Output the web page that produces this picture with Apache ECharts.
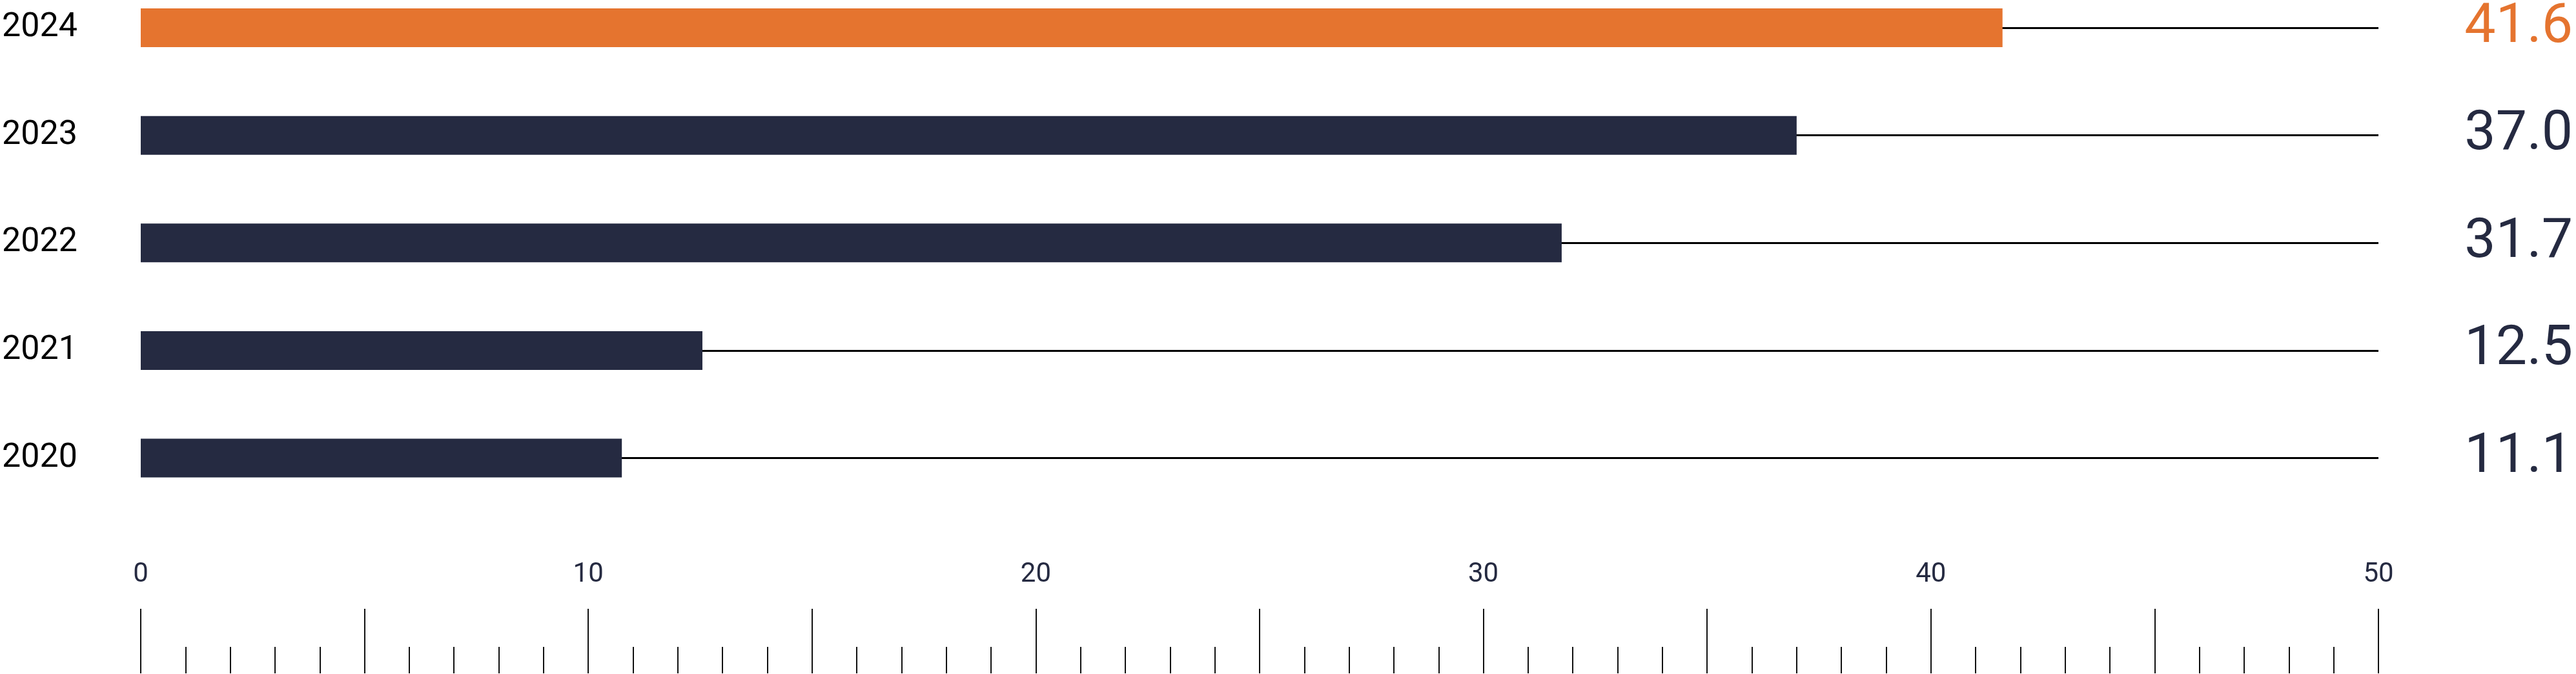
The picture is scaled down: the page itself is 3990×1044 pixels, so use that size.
<!DOCTYPE html>
<html>
<head>
<meta charset="utf-8">
<script src="https://cdn.jsdelivr.net/npm/echarts@6/dist/echarts.min.js"></script>
<style>
  html, body { margin: 0; padding: 0; background: #fff; }
  #chart { width: 3990px; height: 1044px; }
</style>
</head>
<body>
<div id="chart"></div>
<script>
// years bottom → top, as the category axis lays them out
const years = ["2020", "2021", "2022", "2023", "2024"];
// bar lengths as drawn in the picture
const barValues = [10.75, 12.55, 31.75, 37.0, 41.6];
// numbers printed at the right end of each row
const valueLabels = ["11.1", "12.5", "31.7", "37.0", "41.6"];
const highlightYear = "2024";
const axisMax = 50;

const NAVY = "#252a41";
const ORANGE = "#e5742f";
const FONT = "Roboto";

const chart = echarts.init(document.getElementById("chart"));

// rows sit on the category points (boundaryGap off), so the grid spans
// from the top row centre to the bottom row centre
chart.setOption({
  animation: false,
  backgroundColor: "#fff",
  grid: { left: 215, right: 306, top: 37.5, bottom: 334.5 },
  xAxis: {
    type: "value",
    min: 0,
    max: axisMax,
    interval: 5,
    position: "bottom",
    offset: 333.5,
    axisLine: { show: false },
    splitLine: { show: false },
    axisTick: { show: true, inside: true, length: 100, lineStyle: { color: "#111", width: 2 } },
    minorTick: { show: true, splitNumber: 5, length: 41, lineStyle: { color: "#111", width: 2 } },
    axisLabel: {
      inside: true,
      margin: 132,
      fontFamily: FONT,
      fontSize: 42,
      color: NAVY,
      formatter: (v) => (v % 10 === 0 ? String(v) : "")
    }
  },
  yAxis: [
    {
      type: "category",
      data: years,
      boundaryGap: false,
      axisLine: { show: false },
      axisTick: { show: false },
      splitLine: { show: false },
      axisLabel: {
        align: "left",
        margin: 215,
        fontFamily: FONT,
        fontSize: 52,
        color: "#000"
      }
    },
    {
      type: "category",
      data: years,
      boundaryGap: false,
      position: "right",
      axisLine: { show: false },
      axisTick: { show: false },
      splitLine: { show: false },
      axisLabel: {
        align: "right",
        margin: 301,
        fontFamily: FONT,
        fontSize: 86,
        formatter: (v, i) => valueLabels[i],
        color: (v) => (v === highlightYear ? ORANGE : NAVY)
      }
    }
  ],
  series: [
    {
      type: "bar",
      data: barValues,
      barWidth: 60,
      clip: false,
      z: 2,
      itemStyle: {
        color: (p) => (p.name === highlightYear ? ORANGE : NAVY)
      },
      markLine: {
        z: 1,
        silent: true,
        symbol: ["none", "none"],
        label: { show: false },
        lineStyle: { color: "#000", width: 3, type: "solid" },
        data: years.map((y) => [{ coord: [0, y] }, { coord: [axisMax, y] }])
      }
    }
  ]
});
</script>
</body>
</html>
